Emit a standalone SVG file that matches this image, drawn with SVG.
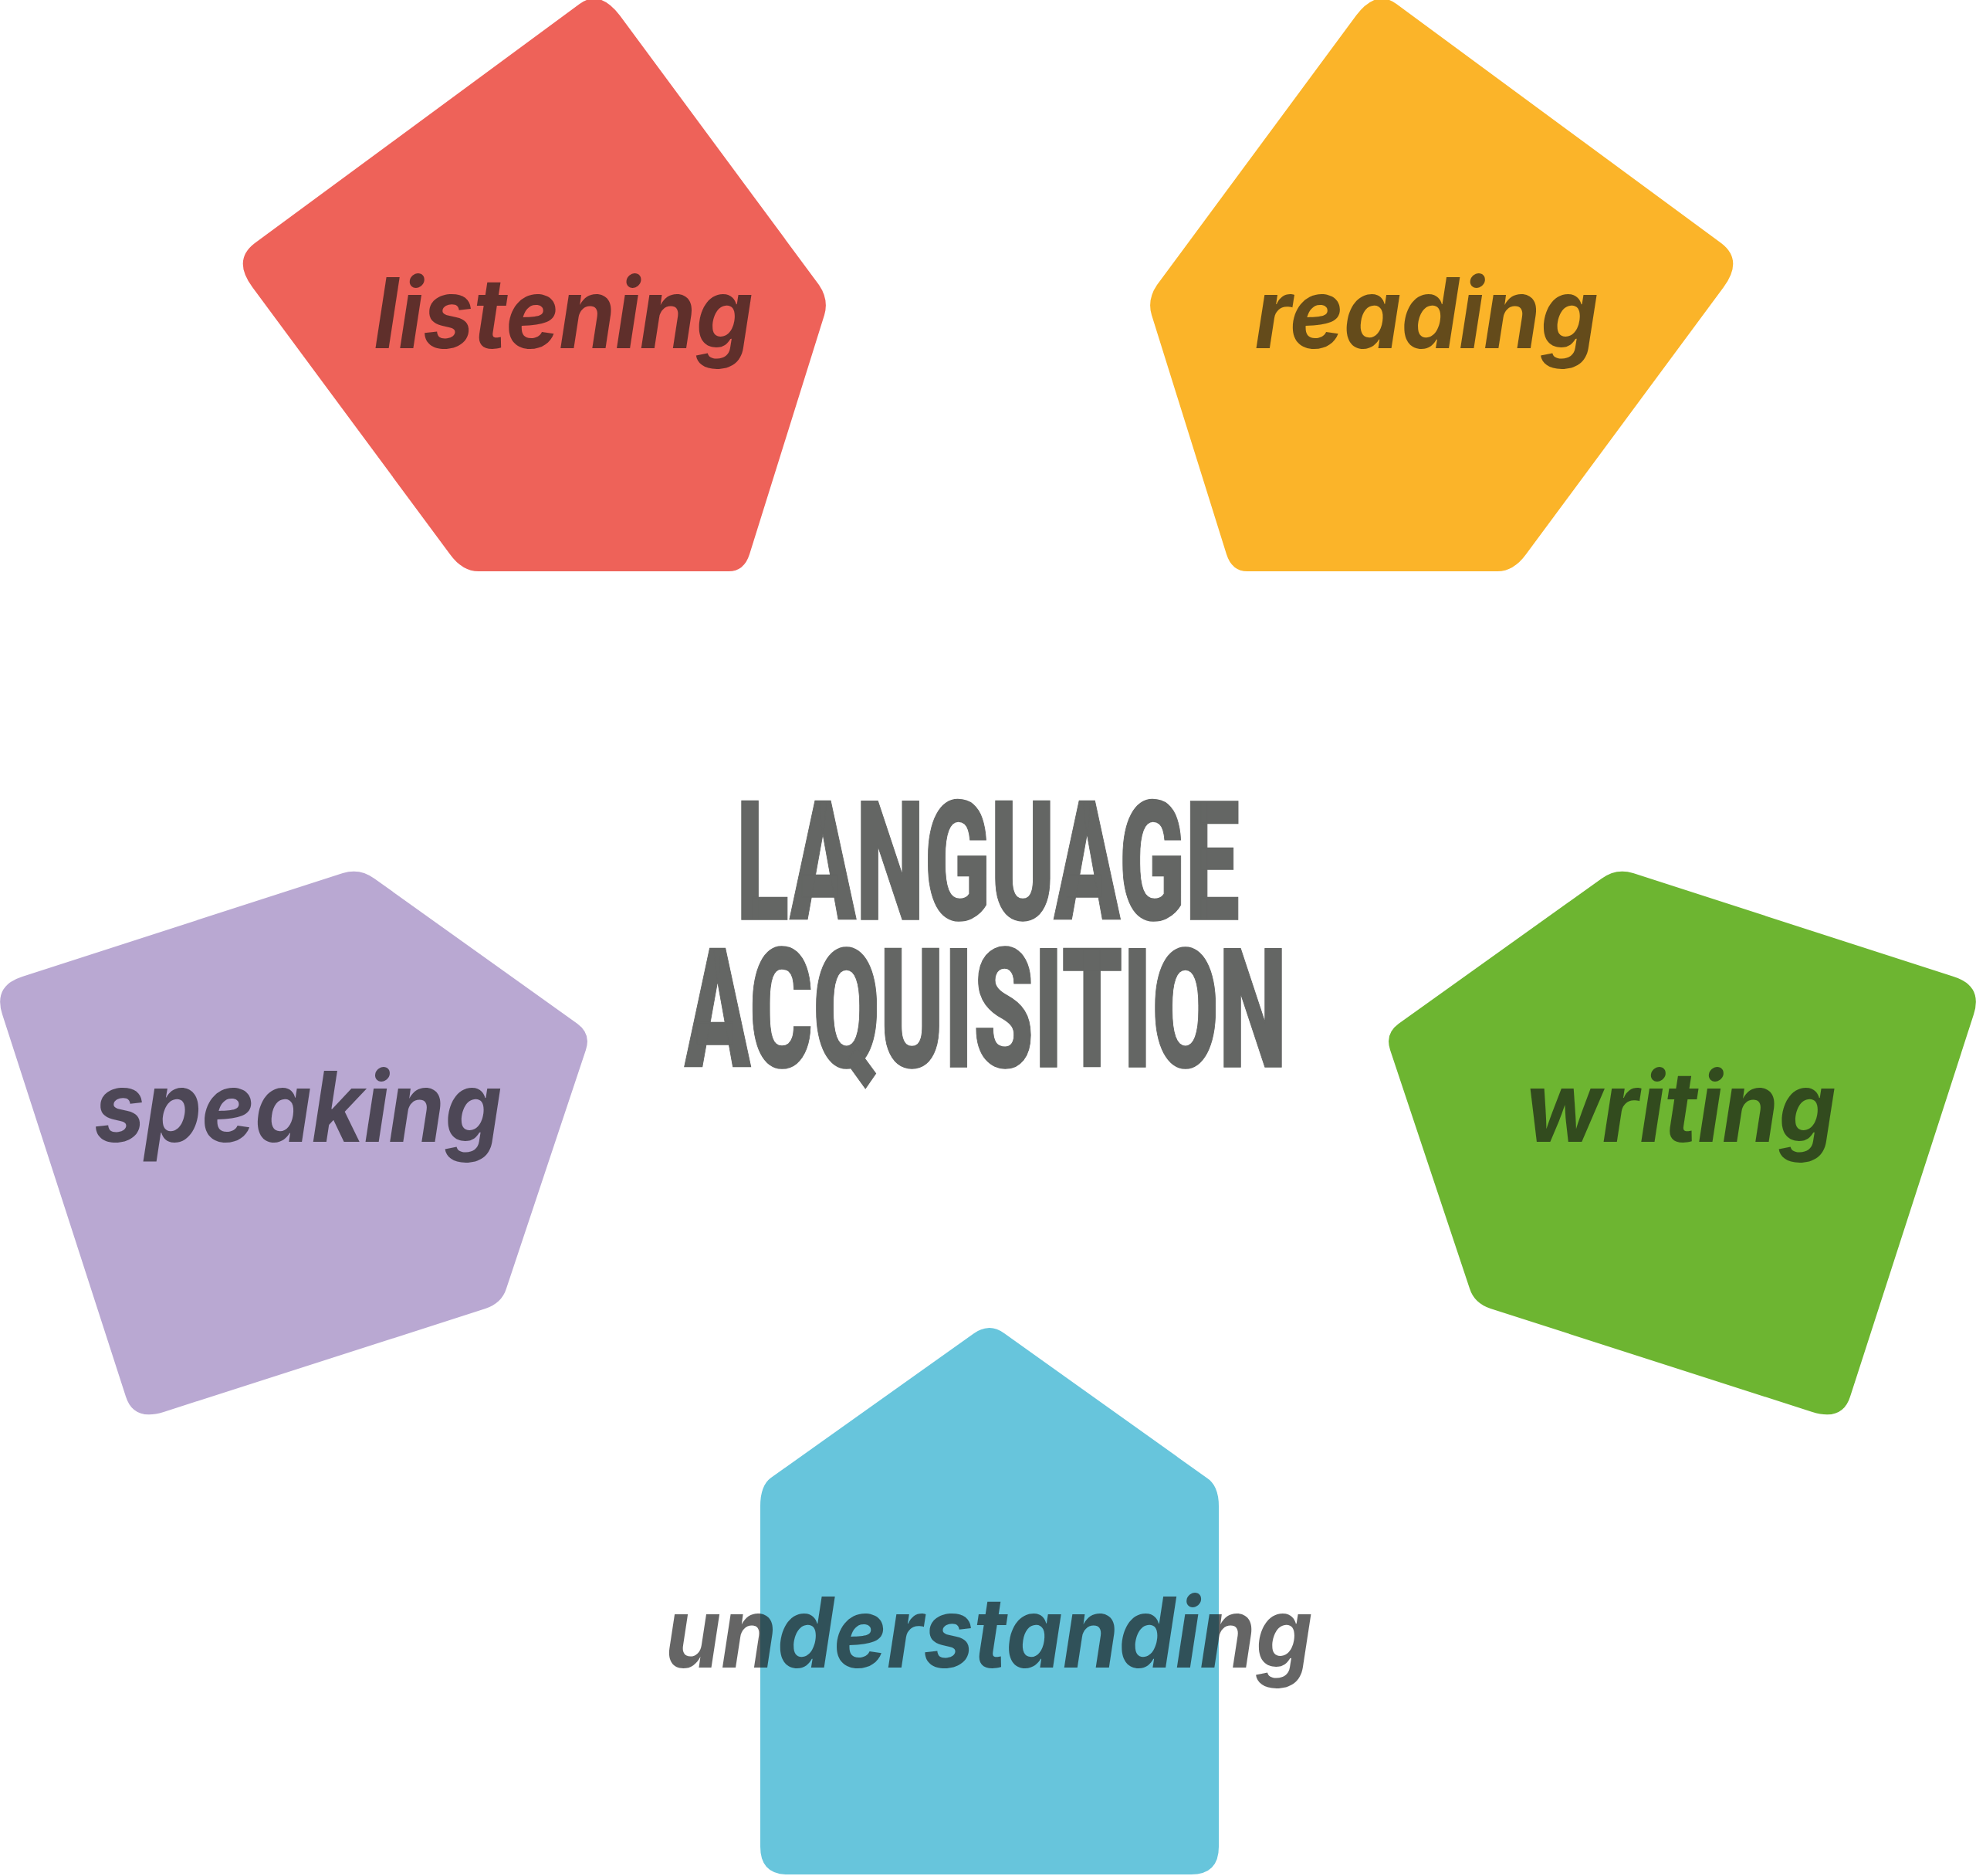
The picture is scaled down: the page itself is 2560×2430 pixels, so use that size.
<svg xmlns="http://www.w3.org/2000/svg" width="2560" height="2430" viewBox="0 0 2560 2430">
<style>
.label{font-family:Inter,"Open Sans","DejaVu Sans",sans-serif;font-style:italic;font-weight:700;font-size:126px;fill:#141414;fill-opacity:0.656;text-anchor:middle}
.title{font-family:Roboto,"Liberation Sans",sans-serif;font-weight:900;font-size:216px;fill:#646664;stroke:#646664;stroke-width:1.5;text-anchor:middle}
</style>
<rect width="2560" height="2430" fill="#ffffff"/>
<g id="listening">
<path fill="#EE6259" d="M751,5 L330,315 Q301,337 327,372 L583,718 Q599,740 620,740 L944,740 Q964,740 971,718 L1068,408 Q1074,388 1061,369 L803,20 Q777,-14 751,5 Z"/>
<text class="label" x="730" y="451" textLength="491" lengthAdjust="spacingAndGlyphs">listening</text>
</g>
<g id="reading">
<path fill="#FBB429" d="M1809,5 L2230,315 Q2259,337 2233,372 L1977,718 Q1961,740 1940,740 L1616,740 Q1596,740 1589,718 L1492,408 Q1486,388 1499,369 L1757,20 Q1783,-14 1809,5 Z"/>
<text class="label" x="1848" y="451" textLength="445" lengthAdjust="spacingAndGlyphs">reading</text>
</g>
<g id="speaking">
<path fill="#B9A8D2" d="M29,1265 L444,1131 Q466,1124 485,1138 L748,1326 Q766,1339 759,1360 L656,1669 Q650,1688 629,1695 L212,1829 Q173,1841 163,1809 L3,1314 Q-9,1277 29,1265 Z"/>
<text class="label" x="386" y="1479" textLength="528" lengthAdjust="spacingAndGlyphs">speaking</text>
</g>
<g id="writing">
<path fill="#6DB531" d="M2531,1265 L2116,1131 Q2094,1124 2075,1138 L1812,1326 Q1794,1339 1801,1360 L1904,1669 Q1910,1688 1931,1695 L2348,1829 Q2387,1841 2397,1809 L2557,1314 Q2569,1277 2531,1265 Z"/>
<text class="label" x="2177" y="1479" textLength="403" lengthAdjust="spacingAndGlyphs">writing</text>
</g>
<g id="understanding">
<path fill="#67C5DC" d="M1262,1727 L999,1914 Q985,1924 985,1951 L985,2392 Q985,2428 1020,2428 L1543,2428 Q1579,2428 1579,2392 L1579,1951 Q1579,1924 1563,1914 L1301,1727 Q1282,1713 1262,1727 Z"/>
<text class="label" x="1281" y="2160" textLength="839" lengthAdjust="spacingAndGlyphs">understanding</text>
</g>
<g id="title">
<text class="title" x="1280" y="1191" textLength="652" lengthAdjust="spacingAndGlyphs">LANGUAGE</text>
<text class="title" x="1277" y="1382" textLength="780" lengthAdjust="spacingAndGlyphs">ACQUISITION</text>
</g>
<g id="connectors"></g>
</svg>
